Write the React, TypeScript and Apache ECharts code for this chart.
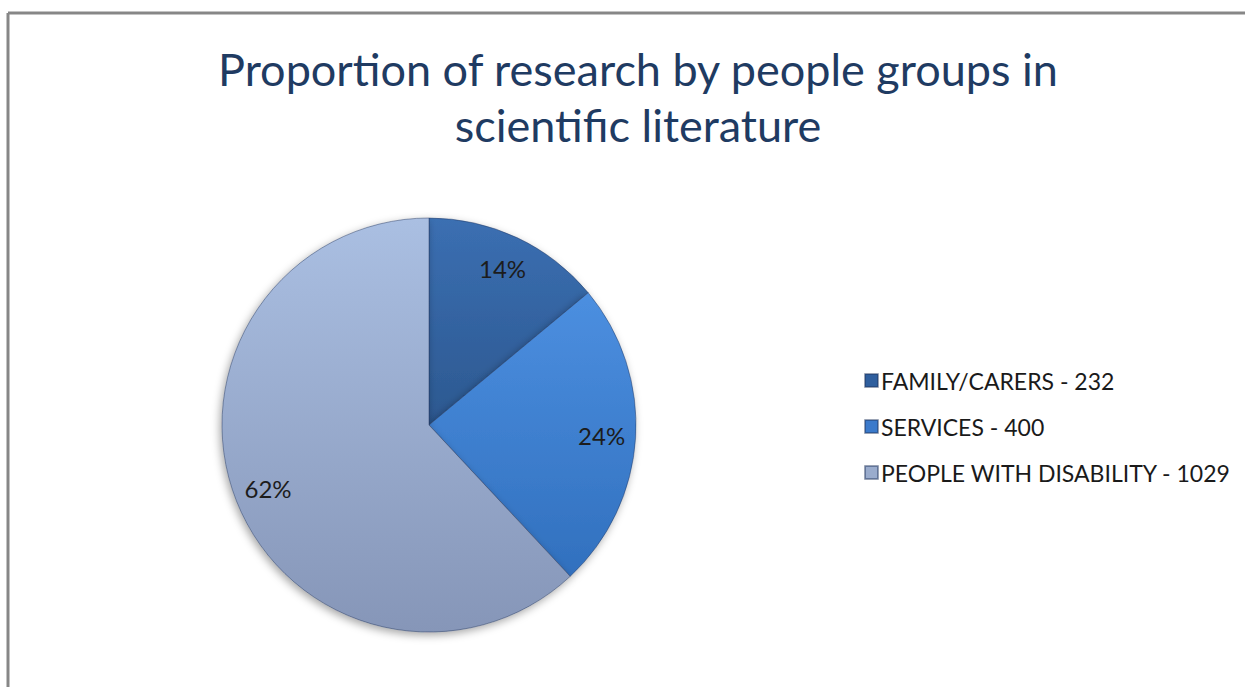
import React, { useEffect, useRef } from "react";
import * as echarts from "echarts";

const titleText = "Proportion of research by people groups in\nscientific literature";
const categories = ["FAMILY/CARERS", "SERVICES", "PEOPLE WITH DISABILITY"];
const counts = [232, 400, 1029];
const percentLabels = ["14%", "24%", "62%"];
const sliceColors = [
  ["#3B6FB2", "#2C5890"],
  ["#4C8FE0", "#3170BE"],
  ["#AABFE2", "#8696B8"],
];
const legendColors = ["#2F5F9E", "#3B7ACB", "#9AACCD"];

export default function App() {
  const ref = useRef<HTMLDivElement>(null);
  useEffect(() => {
    if (!ref.current) return;
    const chart = echarts.init(ref.current, null, { renderer: "svg" });
    const data = categories.map((c, i) => ({
      name: `${c} - ${counts[i]}`,
      value: counts[i],
      itemStyle: {
        color: new echarts.graphic.LinearGradient(0, 0, 0, 1, [
          { offset: 0, color: sliceColors[i][0] },
          { offset: 1, color: sliceColors[i][1] },
        ]),
      },
    }));
    const labelData = categories.map((c, i) => ({
      name: `${c} - ${counts[i]}`,
      value: counts[i],
      label: { formatter: percentLabels[i] },
    }));
    chart.setOption({
      animation: false,
      backgroundColor: "#ffffff",
      color: legendColors,
      title: {
        text: titleText,
        left: 633,
        top: 36,
        textAlign: "center",
        textStyle: {
          fontFamily: "Lato",
          fontSize: 45,
          fontWeight: "normal",
          color: "#1F3B62",
          lineHeight: 56,
        },
      },
      legend: {
        orient: "vertical",
        left: 859,
        top: 364,
        itemWidth: 13,
        itemHeight: 13,
        itemGap: 23,
        icon: "rect",
        textStyle: { fontFamily: "Lato", fontSize: 23, color: "#1a1a1a", padding: [0, 0, 0, -2] },
        data: data.map((d, i) => ({ name: d.name, itemStyle: { color: legendColors[i] } })),
      },
      graphic: [
        { type: "line", shape: { x1: 8, y1: 13, x2: 1245, y2: 13 }, style: { stroke: "#878787", lineWidth: 3 } },
        { type: "line", shape: { x1: 8, y1: 13, x2: 8, y2: 687 }, style: { stroke: "#878787", lineWidth: 3 } },
      ],
      series: [
        {
          type: "pie",
          center: [429, 425],
          radius: [0, 207],
          startAngle: 90,
          clockwise: true,
          label: { show: false },
          labelLine: { show: false },
          itemStyle: {
            borderColor: "rgba(30,50,90,0.45)",
            borderWidth: 1,
            shadowBlur: 8,
            shadowOffsetX: -2,
            shadowOffsetY: 3,
            shadowColor: "rgba(0,0,0,0.35)",
          },
          emphasis: { disabled: true },
          data,
        },
        {
          type: "pie",
          center: [429, 425],
          radius: [134, 206],
          startAngle: 90,
          clockwise: true,
          silent: true,
          itemStyle: { color: "rgba(0,0,0,0)" },
          label: {
            show: true,
            position: "inside",
            fontFamily: "Lato",
            fontSize: 24,
            color: "#1c1c1c",
          },
          labelLine: { show: false },
          emphasis: { disabled: true },
          legendHoverLink: false,
          data: labelData,
        },
      ],
    });
    return () => chart.dispose();
  }, []);
  return (
    <div
      ref={ref}
      style={{ position: "absolute", left: 0, top: 0, width: 1245, height: 687 }}
    />
  );
}
